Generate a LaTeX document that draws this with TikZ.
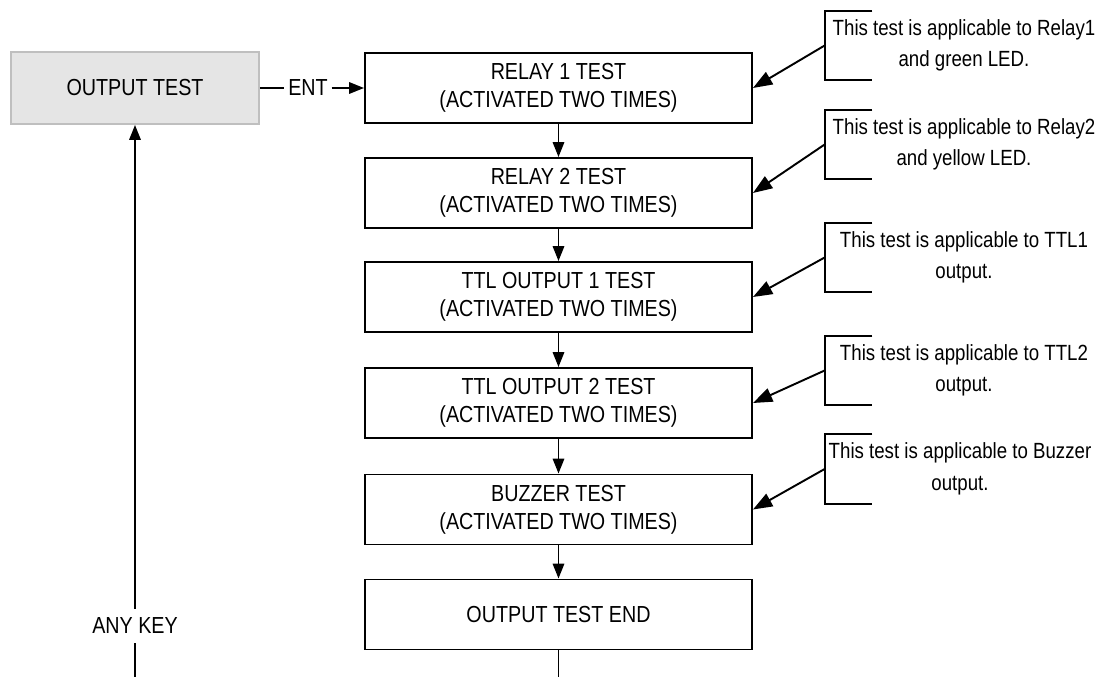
\documentclass[tikz,border=0pt]{standalone}
\usepackage{fontspec}
\setmainfont[FakeStretch=0.85]{Liberation Sans}
\usetikzlibrary{arrows.meta}

\tikzstyle{line} = [line width=1.1pt]
\tikzstyle{arw} = [->, line width=1.1pt, >={Triangle[length=8.5pt,width=6.5pt]}]
\tikzstyle{narw} = [->, line width=1.1pt, >={Triangle[length=11pt,width=8pt]}]
\tikzstyle{box} = [draw, line width=1.1pt, minimum width=7.74cm, minimum height=1.4cm, align=center, font=\fontsize{13.2}{16}\selectfont]
\tikzstyle{grbox} = [draw=black!25, fill=black!10, line width=1.1pt, minimum width=4.96cm, minimum height=1.44cm, font=\fontsize{13.2}{16}\selectfont]
\tikzstyle{brk} = [minimum width=0.94cm, minimum height=1.38cm, inner sep=0pt]
\tikzstyle{note} = [align=center, font=\fontsize{12.5}{18}\selectfont]
\tikzstyle{lbl} = [font=\fontsize{13.2}{16}\selectfont, inner sep=0.18cm]

\begin{document}
\begin{tikzpicture}

    \useasboundingbox (0,0) rectangle (22.02,-13.54);

\node[grbox] (out) at (2.70,-1.76) {OUTPUT TEST};
\node[box] (r1) at (11.17,-1.76) {RELAY 1 TEST\\(ACTIVATED TWO TIMES)};
\node[box] (r2) at (11.17,-3.86) {RELAY 2 TEST\\(ACTIVATED TWO TIMES)};
\node[box] (t1) at (11.17,-5.94) {TTL OUTPUT 1 TEST\\(ACTIVATED TWO TIMES)};
\node[box] (t2) at (11.17,-8.06) {TTL OUTPUT 2 TEST\\(ACTIVATED TWO TIMES)};
\node[box] (bz) at (11.17,-10.19) {BUZZER TEST\\(ACTIVATED TWO TIMES)};
\node[box] (end) at (11.17,-12.29) {OUTPUT TEST END};

\node[lbl, inner sep=2pt] (ent) at (6.16,-1.76) {ENT};
\node[lbl] (any) at (2.70,-12.52) {ANY KEY};
\coordinate (anyin) at (2.70,-13.54);
\coordinate (endout) at (11.17,-13.54);

    \draw[line] (out.east) -- (ent.west);
    \draw[arw] (ent.east) -- (r1.west);
    \draw[arw] (r1) -- (r2);
    \draw[arw] (r2) -- (t1);
    \draw[arw] (t1) -- (t2);
    \draw[arw] (t2) -- (bz);
    \draw[arw] (bz) -- (end);
    \draw[line] (end.south) -- (endout);
    \draw[line] (anyin) -- (any.south);
    \draw[arw] (any.north) -- (out.south);

% notes
\node[brk] (b1) at (16.97,-0.91) {};
\node[brk] (b2) at (16.97,-2.89) {};
\node[brk] (b3) at (16.97,-5.15) {};
\node[brk] (b4) at (16.97,-7.41) {};
\node[brk] (b5) at (16.97,-9.38) {};
\node[note] (n1) at (19.28,-0.91) {This test is applicable to Relay1\\and green LED.};
\node[note] (n2) at (19.28,-2.89) {This test is applicable to Relay2\\and yellow LED.};
\node[note] (n3) at (19.28,-5.15) {This test is applicable to TTL1\\output.};
\node[note] (n4) at (19.28,-7.41) {This test is applicable to TTL2\\output.};
\node[note] (n5) at (19.2,-9.38) {This test is applicable to Buzzer\\output.};

    \draw[line] (b1.north east) -- (b1.north west) -- (b1.south west) -- (b1.south east);
    \draw[line] (b2.north east) -- (b2.north west) -- (b2.south west) -- (b2.south east);
    \draw[line] (b3.north east) -- (b3.north west) -- (b3.south west) -- (b3.south east);
    \draw[line] (b4.north east) -- (b4.north west) -- (b4.south west) -- (b4.south east);
    \draw[line] (b5.north east) -- (b5.north west) -- (b5.south west) -- (b5.south east);
    \draw[narw] (b1.west) -- (r1.east);
    \draw[narw] (b2.west) -- (r2.east);
    \draw[narw] (b3.west) -- (t1.east);
    \draw[narw] (b4.west) -- (t2.east);
    \draw[narw] (b5.west) -- (bz.east);

\end{tikzpicture}
\end{document}
